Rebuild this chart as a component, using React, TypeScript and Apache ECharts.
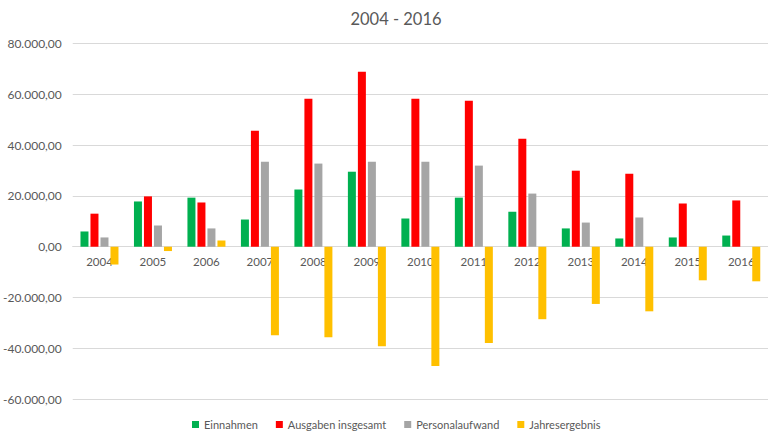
import React, { useEffect, useRef } from "react";
import * as echarts from "echarts";

const years = ["2004","2005","2006","2007","2008","2009","2010","2011","2012","2013","2014","2015","2016"];
const einnahmen = [6000, 17800, 19300, 10700, 22500, 29500, 11100, 19300, 13800, 7200, 3250, 3650, 4400];
const ausgaben = [13000, 19800, 17400, 45600, 58200, 68800, 58200, 57400, 42500, 29900, 28700, 17000, 18200];
const personal = [3650, 8350, 7200, 33400, 32700, 33400, 33400, 31900, 20900, 9500, 11500, 0, 0];
const jahresergebnis = [-7000, -1700, 2450, -34800, -35600, -39100, -46900, -37900, -28500, -22500, -25400, -13200, -13600];

const seriesNames = ["Einnahmen", "Ausgaben insgesamt", "Personalaufwand", "Jahresergebnis"];
const seriesColors = ["#00B050", "#FF0000", "#A5A5A5", "#FFC000"];

const FONT = "Lato, 'Open Sans', sans-serif";

function fmtDE(v: number): string {
  const neg = v < 0;
  const a = Math.abs(Math.round(v));
  const s = String(a).replace(/\B(?=(\d{3})+(?!\d))/g, ".");
  return (neg ? "-" : "") + s + ",00";
}

export default function App() {
  const ref = useRef<HTMLDivElement>(null);
  useEffect(() => {
    document.body.style.margin = "0";
    if (!ref.current) return;
    const chart = echarts.init(ref.current, undefined, { renderer: "svg" });
    const data = [einnahmen, ausgaben, personal, jahresergebnis];
    chart.setOption({
      animation: false,
      backgroundColor: "#ffffff",
      textStyle: { fontFamily: FONT },
      title: {
        text: "2004 - 2016",
        left: 391,
        top: 5,
        textAlign: "center",
        textStyle: { fontFamily: FONT, fontSize: 16.5, fontWeight: "normal", color: "#595959" },
      },
      legend: {
        bottom: 2,
        left: 187,
        icon: "rect",
        itemWidth: 7,
        itemHeight: 7,
        itemGap: 18,
        textStyle: { fontFamily: FONT, fontSize: 11, color: "#595959" },
        data: seriesNames,
      },
      grid: { left: 66, top: 43.3, bottom: 37.7, width: 706 },
      xAxis: {
        type: "category",
        data: years,
        axisLine: { onZero: true, lineStyle: { color: "#D9D9D9", width: 1 } },
        axisTick: { show: false },
        axisLabel: { fontFamily: FONT, fontSize: 11.5, color: "#595959", margin: -144 },
      },
      yAxis: {
        type: "value",
        min: -60000,
        max: 80000,
        interval: 20000,
        axisLine: { show: false },
        axisTick: { show: false },
        splitLine: { lineStyle: { color: "#D9D9D9", width: 1 } },
        axisLabel: {
          fontFamily: FONT,
          fontSize: 12,
          color: "#595959",
          margin: 11,
          formatter: (v: number) => fmtDE(v),
        },
      },
      series: seriesNames.map((name, i) => ({
        name,
        type: "bar",
        data: data[i],
        barWidth: 8,
        barGap: "25%",
        itemStyle: { color: seriesColors[i] },
      })),
    });
    return () => chart.dispose();
  }, []);
  return <div ref={ref} style={{ width: 768, height: 437 }} />;
}
